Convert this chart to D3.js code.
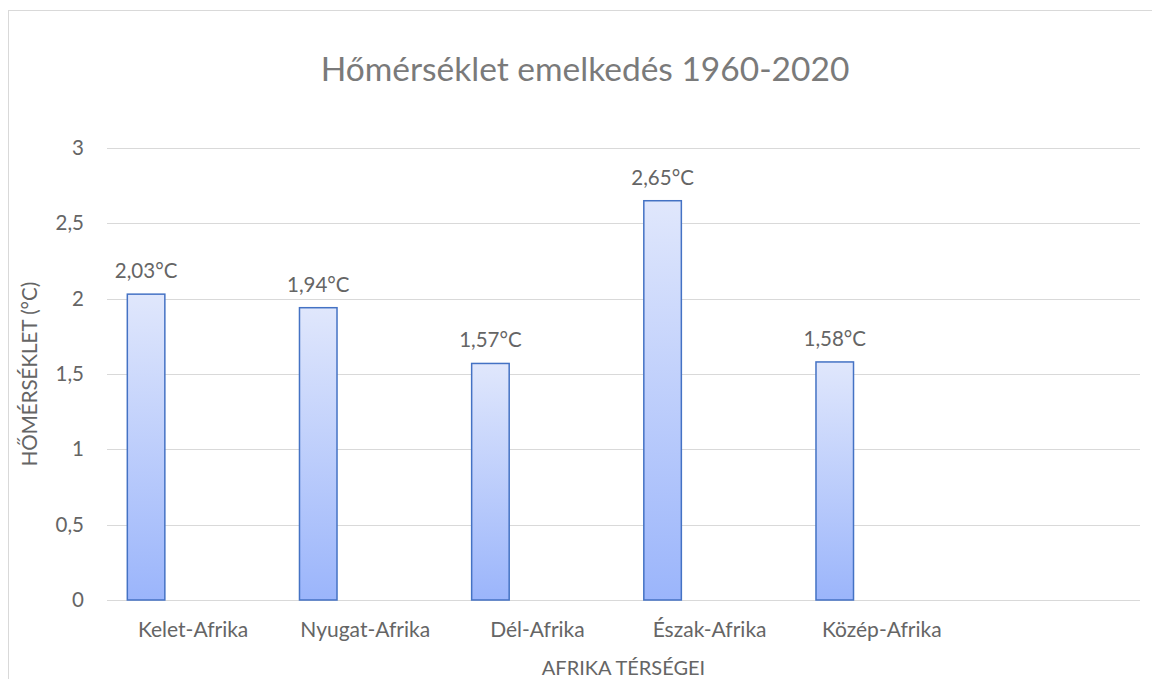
<!DOCTYPE html>
<html>
<head>
<meta charset="utf-8">
<script src="https://cdn.jsdelivr.net/npm/d3@7"></script>
<style>
  body { margin: 0; background: #fff; }
  svg { display: block; font-family: Lato, "Open Sans", sans-serif; }
</style>
</head>
<body>
<svg class="chart"></svg>
<script>
// data
var regions = ['Kelet-Afrika', 'Nyugat-Afrika', 'Dél-Afrika', 'Észak-Afrika', 'Közép-Afrika', '']
var temps = [2.03, 1.94, 1.57, 2.65, 1.58, null]
var yTicks = [0, 0.5, 1, 1.5, 2, 2.5, 3]

var width = 1152, height = 679
var margin = { top: 148, right: 12, bottom: 79, left: 107 }
var plotW = width - margin.left - margin.right
var plotH = height - margin.top - margin.bottom
var txt = '#656565'

var svg = d3.select('.chart')
    .attr('width', width)
    .attr('height', height)

// chart frame
svg.append('rect')
    .attr('x', 8.5).attr('y', 10.5)
    .attr('width', width + 20).attr('height', height + 20)
    .attr('fill', 'none')
    .attr('stroke', '#d9d9d9')

var defs = svg.append('defs')
var grad = defs.append('linearGradient')
    .attr('id', 'barGrad')
    .attr('x1', 0).attr('y1', 0).attr('x2', 0).attr('y2', 1)
grad.append('stop').attr('offset', '0%').attr('stop-color', '#e0e7fc')
grad.append('stop').attr('offset', '100%').attr('stop-color', '#9bb5fb')

svg.append('text')
    .attr('x', 585).attr('y', 81)
    .attr('text-anchor', 'middle')
    .attr('font-size', 33.5)
    .attr('fill', '#7a7a7a')
    .text('Hőmérséklet emelkedés 1960-2020')

var chart = svg.append('g')
    .attr('transform', `translate(${margin.left}, ${margin.top})`)

var x = d3.scaleBand()
    .domain(regions.map(function(d, i) { return i; }))
    .range([0, plotW])

var y = d3.scaleLinear()
    .domain([0, 3])
    .range([plotH, 0])

var fmt = function(v) { return String(v).replace('.', ','); }

// gridlines
chart.append('g')
    .selectAll('line')
    .data(yTicks)
    .enter().append('line')
    .attr('x1', 0).attr('x2', plotW)
    .attr('y1', function(d) { return Math.round(y(d)) + 0.5; })
    .attr('y2', function(d) { return Math.round(y(d)) + 0.5; })
    .attr('stroke', '#d9d9d9')
    .attr('stroke-width', 1)

// y axis labels
var yAxis = chart.append('g')
    .call(d3.axisLeft(y).tickValues(yTicks).tickFormat(fmt).tickSize(0).tickPadding(23))
yAxis.select('.domain').remove()
yAxis.selectAll('text')
    .attr('font-family', 'Lato, "Open Sans", sans-serif')
    .attr('font-size', 20.5)
    .attr('fill', txt)

// x axis labels
var xAxis = chart.append('g')
    .attr('transform', `translate(0, ${plotH})`)
    .call(d3.axisBottom(x).tickFormat(function(i) { return regions[i]; }).tickSize(0).tickPadding(22))
xAxis.select('.domain').remove()
xAxis.selectAll('text')
    .attr('font-family', 'Lato, "Open Sans", sans-serif')
    .attr('font-size', 21)
    .attr('fill', txt)

// bars
var data = regions.map(function(r, i) { return { i: i, name: r, v: temps[i] }; })
    .filter(function(d) { return d.v != null; })

var barOff = x.bandwidth() * 0.118
var barW = x.bandwidth() * 0.218

var bar = chart.selectAll('.bar')
    .data(data)
    .enter().append('g')
    .attr('transform', function(d) { return `translate(${x(d.i) + barOff}, 0)`; })

bar.append('rect')
    .attr('y', function(d) { return y(d.v); })
    .attr('height', function(d) { return plotH - y(d.v); })
    .attr('width', barW)
    .attr('fill', 'url(#barGrad)')
    .attr('stroke', '#4472c4')
    .attr('stroke-width', 1.5)

bar.append('text')
    .attr('x', barW / 2)
    .attr('y', function(d) { return y(d.v) - 16; })
    .attr('text-anchor', 'middle')
    .attr('font-size', 20.5)
    .attr('fill', txt)
    .text(function(d) { return fmt(d.v.toFixed(2)) + '°C'; })

// axis titles
svg.append('text')
    .attr('transform', `translate(37, ${margin.top + plotH / 2}) rotate(-90)`)
    .attr('text-anchor', 'middle')
    .attr('font-size', 20.5)
    .attr('fill', txt)
    .text('HŐMÉRSÉKLET (°C)')

svg.append('text')
    .attr('x', margin.left + plotW / 2)
    .attr('y', 675)
    .attr('text-anchor', 'middle')
    .attr('font-size', 20)
    .attr('fill', txt)
    .text('AFRIKA TÉRSÉGEI')
</script>
</body>
</html>
